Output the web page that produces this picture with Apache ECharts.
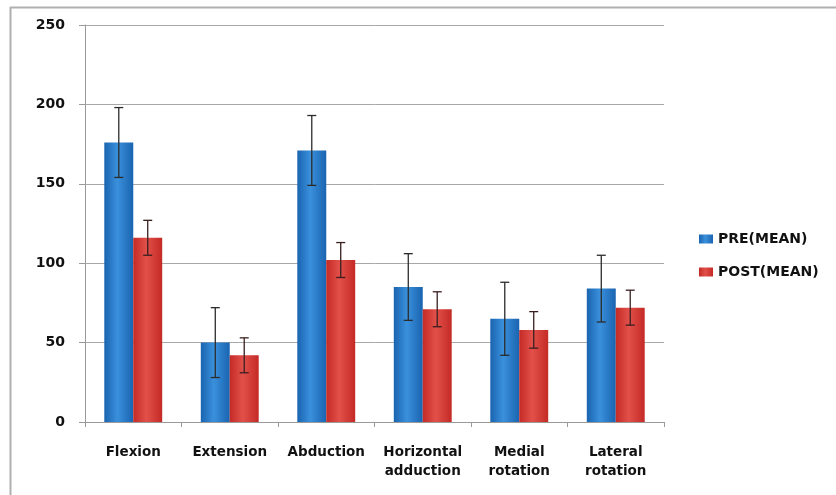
<!DOCTYPE html>
<html>
<head>
<meta charset="utf-8">
<script src="https://cdn.jsdelivr.net/npm/echarts@6/dist/echarts.min.js"></script>
<style>html,body{margin:0;padding:0;background:#fff;}#c{width:836px;height:495px;}</style>
</head>
<body>
<div id="c"></div>
<script>
const categories = ['Flexion', 'Extension', 'Abduction', 'Horizontal\nadduction', 'Medial\nrotation', 'Lateral\nrotation'];
const seriesNames = ['PRE(MEAN)', 'POST(MEAN)'];
const preMean = [176, 50, 171, 85, 65, 84];
const preSD = [22, 22, 22, 21, 23, 21];
const postMean = [116, 42, 102, 71, 58, 72];
const postSD = [11, 11, 11, 11, 11.5, 11];
const yTicks = [0, 50, 100, 150, 200, 250];

const chart = echarts.init(document.getElementById('c'));

function grad(dark, light) {
  return new echarts.graphic.LinearGradient(0, 0, 1, 0, [
    {offset: 0, color: dark},
    {offset: 0.45, color: light},
    {offset: 1, color: dark}
  ]);
}

function errSeries(means, sds, offsetSign, color) {
  const data = means.map((m, i) => [i, m - sds[i], m + sds[i]]);
  return {
    type: 'custom',
    name: 'err' + offsetSign,
    silent: true,
    z: 10,
    renderItem: function (params, api) {
      const band = api.size([1, 0])[0];
      const cx = api.coord([api.value(0), 0])[0] + offsetSign * band * 0.15;
      const lo = api.coord([api.value(0), api.value(1)])[1];
      const hi = api.coord([api.value(0), api.value(2)])[1];
      const hw = 4.5;
      const st = {stroke: color, lineWidth: 1.3};
      return {
        type: 'group',
        children: [
          {type: 'line', shape: {x1: cx, y1: lo, x2: cx, y2: hi}, style: st},
          {type: 'line', shape: {x1: cx - hw, y1: hi, x2: cx + hw, y2: hi}, style: st},
          {type: 'line', shape: {x1: cx - hw, y1: lo, x2: cx + hw, y2: lo}, style: st}
        ]
      };
    },
    encode: {x: 0, y: [1, 2]},
    data: data
  };
}

const FONT = 'DejaVu Sans';

chart.setOption({
  animation: false,
  backgroundColor: '#fff',
  graphic: [
    {type: 'line', shape: {x1: 10, y1: 7.5, x2: 836, y2: 7.5}, style: {stroke: '#b0b0b0', lineWidth: 2}},
    {type: 'line', shape: {x1: 10.5, y1: 7, x2: 10.5, y2: 495}, style: {stroke: '#b0b0b0', lineWidth: 2}}
  ],
  grid: {left: 85, right: 172, top: 25, bottom: 73},
  legend: {
    orient: 'vertical',
    left: 694,
    top: 227,
    itemWidth: 14,
    itemHeight: 9,
    itemGap: 19,
    icon: 'rect',
    data: seriesNames,
    textStyle: {fontFamily: FONT, fontWeight: 'bold', fontSize: 14, color: '#111', padding: [0, 0, 0, 0]}
  },
  xAxis: {
    type: 'category',
    data: categories,
    axisLine: {lineStyle: {color: '#9a9a9a', width: 1}},
    axisTick: {show: true, length: 5, lineStyle: {color: '#9a9a9a'}},
    axisLabel: {
      interval: 0,
      margin: 21,
      lineHeight: 19,
      fontFamily: FONT,
      fontWeight: 'bold',
      fontSize: 13.5,
      color: '#111'
    }
  },
  yAxis: {
    type: 'value',
    min: 0,
    max: 250,
    interval: 50,
    axisLine: {show: true, lineStyle: {color: '#9a9a9a', width: 1}},
    axisTick: {show: true, length: 6, lineStyle: {color: '#9a9a9a'}},
    splitLine: {lineStyle: {color: '#a8a8a8', width: 1}},
    axisLabel: {
      margin: 20,
      fontFamily: FONT,
      fontWeight: 'bold',
      fontSize: 14,
      color: '#111',
      formatter: v => yTicks.includes(v) ? String(v) : ''
    }
  },
  series: [
    {
      name: seriesNames[0], type: 'bar', data: preMean,
      barWidth: '30%', barGap: '0%',
      itemStyle: {color: grad('#1a64b0', '#3a90dc')}
    },
    {
      name: seriesNames[1], type: 'bar', data: postMean,
      barWidth: '30%', barGap: '0%',
      itemStyle: {color: grad('#c42a26', '#e2504a')}
    },
    errSeries(preMean, preSD, -1, '#2b2b2b'),
    errSeries(postMean, postSD, 1, '#3a1f1f')
  ]
});
</script>
</body>
</html>
